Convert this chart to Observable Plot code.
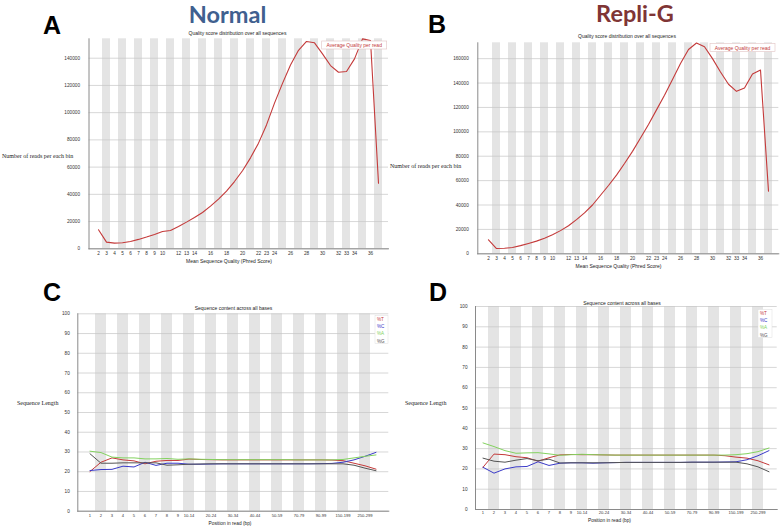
<!DOCTYPE html>
<html>
<head>
<meta charset="utf-8">
<script src="https://cdn.jsdelivr.net/npm/d3@7"></script>
<script src="https://cdn.jsdelivr.net/npm/@observablehq/plot@0.6"></script>
<style>
  html, body { margin: 0; padding: 0; background: #fff; }
  #fig { position: relative; width: 780px; height: 527px; overflow: hidden; background: #fff; }
  .panel { position: absolute; }
  #overlay { position: absolute; left: 0; top: 0; pointer-events: none; }
</style>
</head>
<body>
<div id="fig"></div>
<script>
// ---------- data ----------
const qualityScores = [2,3,4,5,6,7,8,9,10,11,12,13,14,15,16,17,18,19,20,21,22,23,24,25,26,27,28,29,30,31,32,33,34,35,36,37];
const qualityTickLabels = [2,3,4,5,6,7,8,9,10,12,13,14,16,18,20,22,23,24,26,28,30,32,33,34,36];
const normalCounts = [13950,4900,4200,4400,5400,6900,8600,10500,12700,13500,16400,19600,23000,26700,31300,36500,42300,49400,57300,66800,77600,91000,107000,121500,135000,145800,152300,151300,143200,134600,129700,130200,139500,154200,153000,48200];
const repliGCounts = [11500,4300,4500,5200,6700,8500,10400,12800,15700,19000,23000,28000,33500,40000,48000,56000,64500,74000,84000,95000,106000,118000,130000,143000,156000,167500,172800,169800,160000,149000,139000,133200,136000,147500,150700,51300];
const normalYTicks = [0,20000,40000,60000,80000,100000,120000,140000];
const repliGYTicks = [0,20000,40000,60000,80000,100000,120000,140000,160000];
const normalYMax = 154250;
const repliGYMax = 173000;

const positions = ["1","2","3","4","5","6","7","8","9","10-14","15-19","20-24","25-29","30-34","35-39","40-44","45-49","50-59","60-69","70-79","80-89","90-99","100-149","150-199","200-249","250-299","300-301"];
const positionTickLabels = ["1","2","3","4","5","6","7","8","9","10-14","20-24","30-34","40-44","50-59","70-79","90-99","150-199","250-299"];
const contentYTicks = [0,10,20,30,40,50,60,70,80,90,100];

const baseNames = ["%T","%C","%A","%G"];
const baseColors = ["#c43a3a","#3a3ac8","#84d260","#555555"];

const normalT = [20.1,24.8,27.0,26.0,25.5,24.0,25.3,25.7,25.7,26.4,26.2,26.1,26.0,26.0,26.0,26.0,26.0,26.0,26.0,26.0,26.0,26.0,25.9,25.6,24.3,23.0,21.3];
const normalC = [20.6,21.1,21.2,22.8,22.4,24.8,23.2,24.3,24.3,23.8,23.8,23.9,24.0,24.0,24.0,24.0,24.0,24.0,24.0,24.0,24.0,24.1,24.2,24.8,26.0,27.8,29.8];
const normalA = [30.4,29.7,27.4,27.0,27.0,26.5,26.5,26.7,26.3,26.5,26.3,26.2,26.1,26.1,26.1,26.1,26.1,26.1,26.1,26.0,26.0,26.0,26.0,26.2,27.0,27.8,28.5];
const normalG = [29.1,24.3,24.3,24.5,24.5,24.5,24.5,23.3,23.5,23.8,23.9,24.0,24.0,24.0,24.0,24.0,24.0,24.0,24.0,24.0,24.0,24.0,24.0,24.0,23.3,21.8,20.5];

const repliT = [20.8,27.3,27.0,26.0,25.5,23.8,25.5,26.9,27.1,27.0,27.0,26.9,26.8,26.8,26.8,26.8,26.8,26.8,26.8,26.8,26.8,26.8,26.5,25.8,25.3,24.0,22.0];
const repliC = [20.8,17.9,20.0,21.0,21.2,23.5,21.7,22.8,23.0,23.0,22.8,23.0,23.1,23.2,23.2,23.2,23.2,23.2,23.2,23.3,23.3,23.3,23.4,23.5,24.5,26.5,29.0];
const repliA = [32.8,31.0,29.0,27.7,27.9,28.0,27.4,26.7,27.0,27.2,27.0,26.9,26.8,26.8,26.8,26.8,26.8,26.8,26.8,26.8,26.8,26.8,26.8,27.0,27.5,28.5,30.3];
const repliG = [25.3,23.8,23.3,24.3,25.1,24.0,24.8,22.9,23.0,23.0,23.0,23.0,23.1,23.2,23.2,23.2,23.2,23.2,23.2,23.3,23.3,23.3,23.3,23.3,22.5,21.0,18.6];

// ---------- styling ----------
const BAND = "#e4e4e4";
const GRID = "#c6c6c6";
const AXIS = "#8a8a8a";
const QLINE = "#c43a3a";
const plotStyle = {fontSize: "4.7px", fontFamily: "Liberation Sans, Arial, sans-serif", color: "#333", background: "transparent", overflow: "visible"};

const fig = document.getElementById("fig");
function place(node, left, top) {
  const d = document.createElement("div");
  d.className = "panel";
  d.style.left = left + "px";
  d.style.top = top + "px";
  d.appendChild(node);
  fig.appendChild(d);
}

function qualityChart(counts, yMax, yTicks, box) {
  const rows = qualityScores.map((q, i) => ({q, n: counts[i]}));
  return Plot.plot({
    width: box.width, height: box.height,
    marginLeft: box.ml, marginRight: box.mr, marginTop: box.mt, marginBottom: box.mb,
    style: plotStyle,
    x: {type: "band", domain: qualityScores, padding: 0},
    y: {domain: [0, yMax]},
    marks: [
      Plot.cell(qualityScores.filter((d, i) => i % 2 === 1), {x: d => d, fill: BAND}),
      Plot.ruleY(yTicks, {stroke: GRID, strokeWidth: 0.7}),
      Plot.line(rows, {x: "q", y: "n", stroke: QLINE, strokeWidth: 1.1}),
      Plot.frame({anchor: "left", stroke: AXIS}),
      Plot.frame({anchor: "bottom", stroke: AXIS}),
      Plot.axisY({ticks: yTicks, tickSize: 0, tickPadding: 9, tickFormat: "d", label: null}),
      Plot.axisX({ticks: qualityTickLabels, tickSize: 0, tickPadding: 3, label: null})
    ]
  });
}

function contentChart(series, box) {
  const rows = baseNames.flatMap((b, j) => positions.map((p, i) => ({p, base: b, v: series[j][i]})));
  return Plot.plot({
    width: box.width, height: box.height,
    marginLeft: box.ml, marginRight: box.mr, marginTop: box.mt, marginBottom: box.mb,
    style: plotStyle,
    x: {type: "band", domain: positions, padding: 0},
    y: {domain: [0, 100]},
    color: {domain: baseNames, range: baseColors},
    marks: [
      Plot.cell(positions.filter((d, i) => i % 2 === 1), {x: d => d, fill: BAND}),
      Plot.ruleY(contentYTicks, {stroke: GRID, strokeWidth: 0.7}),
      Plot.line(rows, {x: "p", y: "v", z: "base", stroke: "base", strokeWidth: 1}),
      Plot.frame({anchor: "left", stroke: AXIS}),
      Plot.frame({anchor: "bottom", stroke: AXIS}),
      Plot.axisY({ticks: contentYTicks, tickSize: 0, tickPadding: 8, label: null}),
      Plot.axisX({ticks: positionTickLabels, tickSize: 0, tickPadding: box.tp, fontSize: 4.1, label: null})
    ]
  });
}

place(qualityChart(normalCounts, normalYMax, normalYTicks, {width: 390, height: 242, ml: 88.5, mr: 2, mt: 10.3, mb: 21.7}), 0, 28);
place(qualityChart(repliGCounts, repliGYMax, repliGYTicks, {width: 390, height: 242, ml: 87.3, mr: 1.7, mt: 14.3, mb: 16.7}), 390, 28);
place(contentChart([normalT, normalC, normalA, normalG], {width: 390, height: 225, ml: 77.3, mr: 1.7, mt: 13.3, mb: 14.3, tp: 3}), 0, 300);
place(contentChart([repliT, repliC, repliA, repliG], {width: 390, height: 225, ml: 85, mr: 3.3, mt: 6, mb: 16, tp: 1.5}), 390, 300);

// ---------- text overlay ----------
const svg = d3.select("#fig").append("svg").attr("id", "overlay").attr("width", 780).attr("height", 527);
function txt(s, x, y, o = {}) {
  return svg.append("text").text(s).attr("x", x).attr("y", y)
    .attr("text-anchor", o.anchor || "start")
    .attr("font-family", o.family || "Liberation Sans, Arial, sans-serif")
    .attr("font-size", o.size || 5)
    .attr("font-weight", o.weight || "normal")
    .attr("fill", o.fill || "#222");
}
// panel letters
txt("A", 43, 34, {size: 25, weight: "bold", fill: "#000"});
txt("B", 428, 33, {size: 25, weight: "bold", fill: "#000"});
txt("C", 43, 301, {size: 25, weight: "bold", fill: "#000"});
txt("D", 429, 301, {size: 25, weight: "bold", fill: "#000"});
// headings
txt("Normal", 227.5, 22.5, {anchor: "middle", family: "Lato, Open Sans, sans-serif", size: 23.5, weight: "bold", fill: "#40608f"});
txt("Repli-G", 635, 22, {anchor: "middle", family: "Lato, Open Sans, sans-serif", size: 23.5, weight: "bold", fill: "#7f3535"});
// chart titles
txt("Quality score distribution over all sequences", 237.5, 35, {anchor: "middle", size: 5});
txt("Quality score distribution over all sequences", 627, 38, {anchor: "middle", size: 5});
txt("Sequence content across all bases", 233.5, 309.5, {anchor: "middle", size: 5});
txt("Sequence content across all bases", 622, 304.5, {anchor: "middle", size: 5});
// x titles
txt("Mean Sequence Quality (Phred Score)", 229, 262.5, {anchor: "middle", size: 5});
txt("Mean Sequence Quality (Phred Score)", 618.5, 267.5, {anchor: "middle", size: 5});
txt("Position in read (bp)", 230, 524.5, {anchor: "middle", size: 4.8});
txt("Position in read (bp)", 609.5, 522, {anchor: "middle", size: 4.8});
// y titles (serif)
txt("Number of reads per each bin", 2, 157.5, {family: "Liberation Serif, serif", size: 6});
txt("Number of reads per each bin", 390, 168, {family: "Liberation Serif, serif", size: 6});
txt("Sequence Length", 17, 405, {family: "Liberation Serif, serif", size: 6});
txt("Sequence Length", 405, 404.5, {family: "Liberation Serif, serif", size: 6});
// quality legends
function qLegend(x, y, w, h) {
  svg.append("rect").attr("x", x).attr("y", y).attr("width", w).attr("height", h)
    .attr("fill", "#fff").attr("stroke", "#e2c4c4").attr("stroke-width", 0.6);
  txt("Average Quality per read", x + w / 2, y + h - 2, {anchor: "middle", size: 5, fill: QLINE});
}
qLegend(321.7, 41, 65, 8);
qLegend(710, 43.3, 65, 8.4);
// content legends
function cLegend(x, y, w, h, step) {
  svg.append("rect").attr("x", x).attr("y", y).attr("width", w).attr("height", h)
    .attr("fill", "#fff").attr("stroke", "#dddddd").attr("stroke-width", 0.5);
  baseNames.forEach((b, i) => txt(b, x + 2, y + 5 + i * step, {size: 4.6, fill: baseColors[i]}));
}
cLegend(375, 315.5, 13, 28, 7.4);
cLegend(758, 309.5, 14, 28, 7.4);
</script>
</body>
</html>
